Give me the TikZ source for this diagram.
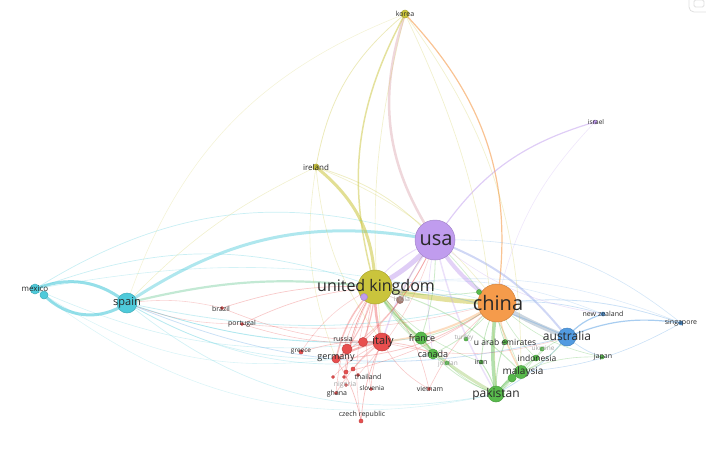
\documentclass[tikz,border=0pt]{standalone}
\usepackage{fontspec}
\setmainfont{Open Sans}
\usepackage{tikz}

\definecolor{usacol}{RGB}{192,156,238}
\definecolor{chinacol}{RGB}{245,155,75}
\definecolor{ukcol}{RGB}{202,196,60}
\definecolor{spaincol}{RGB}{78,202,218}
\definecolor{auscol}{RGB}{82,155,225}
\definecolor{grncol}{RGB}{88,186,76}
\definecolor{redcol}{RGB}{232,78,78}
\definecolor{browncol}{RGB}{168,128,118}
\definecolor{labcol}{RGB}{40,40,40}
\definecolor{hidcol}{RGB}{165,165,165}

\pgfdeclarelayer{back}
\pgfsetlayers{back,main}

\begin{document}
\begin{tikzpicture}[x=1pt,y=-1pt,
  dot/.style={circle, inner sep=0pt, line width=0.5pt},
  lab/.style={inner sep=0pt},
  link/.style={line cap=round}]

\useasboundingbox (0,0) rectangle (706,460);

% countries (circles)
\foreach \name/\x/\y/\d/\col in {
  usa/435/240/40/usacol, china/497/303/38/chinacol, uk/375/287/34/ukcol,
  spain/127/303/20/spaincol, mexico/35/289/10/spaincol, mxb/44/295/8/spaincol,
  australia/567/337/18/auscol, nz/603/314/4/auscol, singapore/681/323/4/auscol,
  korea/405/14/8/ukcol, ireland/316/167/6/ukcol, israel/595/122/4/usacol,
  purp/364/297/7/usacol, india/400/300/7/browncol,
  italy/382/342/18/redcol, redb/363/342/9/redcol, russia/347/349/10/redcol,
  germany/336/359/8/redcol, greece/301/352/4/redcol, thai/346/372/4/redcol,
  redc/353/369/4/redcol, redd/344/377/3/redcol, rede/358/375/3/redcol,
  redf/333/377/3/redcol, nigeria/346/385/3/redcol, ghana/336/393/3/redcol,
  slovenia/371/389/3/redcol, czech/361/421/4/redcol, vietnam/429/389/3/redcol,
  brazil/222/308/3/redcol, portugal/242/324/3/redcol,
  france/421/338/12/grncol, canada/433/354/10/grncol, jordan/447/363/4/grncol,
  turkey/466/339/4/grncol, uae/505/342/5/grncol, iran/481/362/4/grncol,
  indonesia/536/358/6/grncol, malaysia/521/372/13/grncol, malb/512/378/8/grncol,
  pakistan/496/394/16/grncol, ukraine/542/349/4/grncol, japan/602/357/4/grncol,
  grnb/479/292/5/grncol}
  \node[dot, fill=\col, draw=\col!85!black, minimum size=\d pt] (\name) at (\x,\y) {};

% links
\begin{pgfonlayer}{back}
\foreach \a/\b/\col/\w/\bnd/\op in {
  usa/uk/usacol/5/10/.5, usa/china/usacol/4/-12/.45, spain/usa/spaincol/3/22/.45,
  korea/usa/usacol!55!chinacol/2.5/-26/.4, korea/uk/ukcol/1.5/-22/.5,
  korea/china/chinacol/1.2/26/.6, israel/usa/usacol/1.2/-20/.5,
  ireland/uk/ukcol/3/25/.55, uk/china/ukcol/5/-5/.5, spain/uk/spaincol!40!grncol/2.2/10/.35,
  mexico/spain/spaincol/3/30/.6, mxb/spain/spaincol/3/-40/.6,
  china/australia/auscol!40!gray/4.5/-5/.35, china/pakistan/grncol/3.5/-8/.45,
  uk/pakistan/grncol!60!ukcol/3/-12/.35, usa/australia/usacol!50!auscol/2/15/.4,
  uk/italy/redcol/2.5/-8/.4, italy/germany/redcol/2/-10/.4, uk/germany/redcol/1.5/-15/.35,
  pakistan/malaysia/grncol/2/10/.5, china/malaysia/chinacol/1.5/-10/.35,
  australia/singapore/auscol/1.2/15/.5, australia/nz/auscol/1.2/15/.5,
  uk/france/grncol/1.5/-10/.35, france/canada/grncol/1.5/10/.4,
  china/italy/chinacol/2/12/.35, usa/italy/usacol/1.5/-10/.35, usa/pakistan/usacol/1.5/-8/.3,
  korea/ireland/ukcol/0.8/-20/.35, korea/italy/ukcol/0.7/-10/.25,
  korea/pakistan/ukcol/0.7/12/.25, korea/malaysia/ukcol/0.7/18/.25,
  korea/spain/ukcol/0.6/-25/.2, israel/china/usacol/0.6/-15/.25,
  ireland/usa/ukcol/0.8/15/.3, ireland/china/ukcol/0.7/15/.25,
  ireland/spain/ukcol/0.6/-10/.25, ireland/italy/ukcol/0.7/-15/.25,
  ireland/germany/ukcol/0.6/-15/.25,
  mexico/usa/spaincol/0.7/25/.3, mexico/uk/spaincol/0.7/20/.3,
  mexico/china/spaincol/0.6/12/.25, mexico/italy/spaincol/0.6/-15/.25,
  mexico/pakistan/spaincol/0.6/-25/.2, mexico/germany/spaincol/0.6/-20/.2,
  spain/italy/spaincol/0.8/-10/.3, spain/china/spaincol/0.8/-12/.3,
  spain/australia/auscol/0.8/-18/.3, spain/germany/spaincol/0.7/-15/.25,
  spain/pakistan/spaincol/0.7/-25/.25, spain/canada/spaincol/0.7/-20/.25,
  spain/france/spaincol/0.7/-12/.25, spain/brazil/redcol/0.6/10/.25,
  spain/portugal/redcol/0.6/-10/.25,
  brazil/uk/redcol/0.7/10/.3, portugal/uk/redcol/0.7/10/.3,
  brazil/italy/redcol/0.6/-10/.3, portugal/italy/redcol/0.6/-10/.3,
  portugal/china/redcol/0.6/-10/.25, greece/italy/redcol/0.7/10/.3,
  greece/uk/redcol/0.6/15/.25, russia/uk/redcol/1/-10/.35,
  russia/italy/redcol/0.8/10/.35, redb/uk/redcol/1.2/-8/.35,
  redb/usa/redcol/0.8/-10/.3, germany/usa/redcol/0.8/-15/.3,
  germany/china/redcol/0.8/-15/.3, italy/canada/redcol/0.8/10/.3,
  italy/australia/redcol/0.6/-15/.25, czech/italy/redcol/0.7/10/.35,
  czech/germany/redcol/0.7/-10/.35, czech/uk/redcol/0.6/15/.25,
  ghana/uk/redcol/0.6/15/.3, ghana/italy/redcol/0.6/10/.3,
  nigeria/uk/redcol/0.6/15/.3, thai/uk/redcol/0.6/10/.3,
  thai/china/redcol/0.6/-10/.3, redc/italy/redcol/0.6/10/.3,
  redd/uk/redcol/0.6/12/.3, rede/usa/redcol/0.6/-12/.25,
  redf/italy/redcol/0.6/10/.3, slovenia/italy/redcol/0.6/10/.3,
  slovenia/uk/redcol/0.6/12/.3, vietnam/uk/redcol/0.6/-15/.3,
  vietnam/china/redcol/0.6/12/.3, vietnam/italy/redcol/0.6/15/.3,
  france/china/grncol/0.8/-10/.3, france/usa/grncol/0.8/-10/.3,
  canada/uk/grncol/0.8/10/.3, canada/china/grncol/0.8/-12/.3,
  canada/pakistan/grncol/0.8/-12/.3, pakistan/uae/grncol/1/10/.35,
  pakistan/iran/grncol/1/-10/.35, pakistan/indonesia/grncol/0.8/12/.3,
  malaysia/indonesia/grncol/0.8/10/.35, malaysia/australia/grncol/0.8/-15/.3,
  malaysia/uk/grncol/1/-15/.3, malaysia/usa/grncol/0.8/-12/.25,
  malb/pakistan/grncol/1/10/.35, japan/malaysia/grncol/0.6/-12/.3,
  japan/china/grncol/0.6/15/.3, japan/australia/auscol/0.7/10/.3,
  uae/china/grncol/0.8/10/.35, iran/china/grncol/0.8/10/.35,
  iran/uk/grncol/0.6/15/.3, jordan/uk/grncol/0.6/15/.3,
  jordan/pakistan/grncol/0.6/-12/.3, turkey/china/grncol/0.6/10/.3,
  ukraine/pakistan/grncol/0.6/10/.3, indonesia/australia/grncol/0.6/15/.3,
  indonesia/china/grncol/0.6/10/.3, singapore/china/auscol/0.8/-12/.3,
  singapore/usa/auscol/0.6/-20/.25, singapore/malaysia/auscol/0.6/12/.3,
  singapore/uk/auscol/0.6/-15/.2, nz/china/auscol/0.7/-10/.3,
  nz/usa/usacol/0.6/15/.3, nz/uk/auscol/0.6/-15/.2,
  australia/uk/auscol/1/-10/.3, australia/pakistan/auscol/0.8/10/.3,
  usa/canada/usacol/0.8/-10/.3, purp/usa/usacol/1/15/.35,
  india/uk/browncol/0.8/10/.3, india/usa/browncol/0.8/10/.3,
  grnb/china/grncol/0.8/10/.3, grnb/uk/grncol/0.8/10/.3}
  \draw[link, draw=\col, draw opacity=\op, line width=\w pt, bend left=\bnd]
    (\a.center) to (\b.center);
\end{pgfonlayer}

% labels
\foreach \name/\x/\y/\sz/\tc/\txt in {
  korea/405/14/7/labcol/korea, israel/596/122/6.5/labcol/israel,
  ireland/316/167/8/labcol/ireland, usa/436/240/20/labcol/usa,
  uk/376/287/16/labcol/united kingdom, china/498/303/20/labcol/china,
  india/402/299/7/hidcol/india, mexico/35/289/8/labcol/mexico,
  spain/127/303/11/labcol/spain, brazil/221/309/7/labcol/brazil,
  portugal/242/324/7/labcol/portugal, nz/603/314/7/labcol/new zealand,
  singapore/681/323/7/labcol/singapore, australia/567/336/12/labcol/australia,
  france/422/338/9/labcol/france, turkey/464/338/6.5/hidcol/turkey,
  uae/505/342/8.5/labcol/u arab emirates, italy/383/342/11/labcol/italy,
  russia/343/339/7/labcol/russia, greece/301/352/6.5/labcol/greece,
  germany/336/358/9/labcol/germany, canada/433/354/9/labcol/canada,
  jordan/448/364/6.5/hidcol/jordan, iran/481/362/7/labcol/iran,
  ukraine/543/348/6.5/hidcol/ukraine, indonesia/537/358/8.5/labcol/indonesia,
  japan/603/357/7/labcol/japan, malaysia/523/372/10/labcol/malaysia,
  thai/368/377/7/labcol/thailand, nigeria/345/385/7/hidcol/nigeria,
  slovenia/372/388/6.5/labcol/slovenia, vietnam/430/389/7/labcol/vietnam,
  ghana/337/394/7/labcol/ghana, pakistan/496/394/12/labcol/pakistan,
  czech/362/415/7/labcol/czech republic}
  \node[lab, text=\tc, font=\fontsize{\sz}{\sz}\selectfont] (\name-l) at (\x,\y) {\txt};

% corner button
\draw[gray!25, line width=0.8pt, rounded corners=5pt] (689,-10) rectangle (722,12);
\draw[gray!25, line width=0.8pt, rounded corners=1.5pt] (694,0) rectangle (704,7);
\end{tikzpicture}
\end{document}
